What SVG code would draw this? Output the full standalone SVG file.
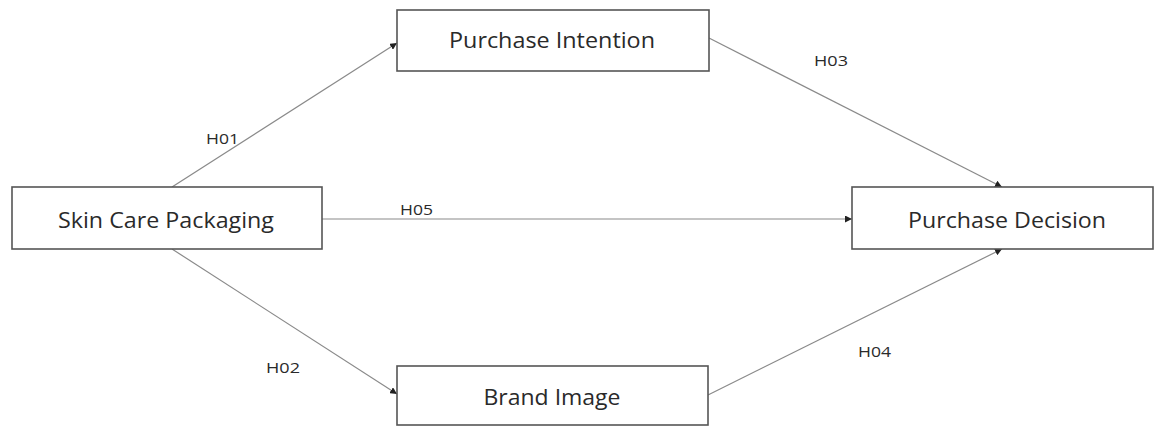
<svg xmlns="http://www.w3.org/2000/svg" width="1158" height="427" viewBox="0 0 1158 427">
<defs>
<style>
.box{fill:#fff;stroke:#555;stroke-width:1.6}
.node{font-family:"Open Sans","Noto Sans",sans-serif;font-size:21px;fill:#2a2a2a;text-anchor:middle}
.lbl{font-family:"Open Sans","Noto Sans",sans-serif;font-size:15px;fill:#2a2a2a}
.edge{stroke:#8a8a8a;stroke-width:1.2;fill:none;marker-end:url(#ah)}
</style>
<marker id="ah" viewBox="0 0 10 10" refX="10" refY="5" markerWidth="7" markerHeight="7" markerUnits="userSpaceOnUse" orient="auto">
<path d="M0,0 L10,5 L0,10 z" fill="#222"/>
</marker>
</defs>
<rect width="1158" height="427" fill="#fff"/>
<g id="connectors">
<line class="edge" x1="172" y1="187" x2="397" y2="43"/>
<line class="edge" x1="172" y1="249" x2="397" y2="394"/>
<line class="edge" x1="709" y1="38" x2="1002" y2="187"/>
<line class="edge" x1="708" y1="395" x2="1002" y2="249"/>
<line class="edge" x1="322" y1="219" x2="852" y2="219"/>
<text class="lbl" x="206" y="144" textLength="33" lengthAdjust="spacingAndGlyphs">H01</text>
<text class="lbl" x="400" y="215" textLength="33" lengthAdjust="spacingAndGlyphs">H05</text>
<text class="lbl" x="266" y="373" textLength="34" lengthAdjust="spacingAndGlyphs">H02</text>
<text class="lbl" x="814" y="66" textLength="34" lengthAdjust="spacingAndGlyphs">H03</text>
<text class="lbl" x="858" y="357" textLength="33" lengthAdjust="spacingAndGlyphs">H04</text>
</g>
<g id="purchase-intention">
<rect class="box" x="397" y="10" width="312" height="61"/>
<text class="node" x="552" y="48" textLength="206" lengthAdjust="spacingAndGlyphs">Purchase Intention</text>
</g>
<g id="skin-care-packaging">
<rect class="box" x="12" y="187" width="310" height="62"/>
<text class="node" x="166" y="228" textLength="216" lengthAdjust="spacingAndGlyphs">Skin Care Packaging</text>
</g>
<g id="purchase-decision">
<rect class="box" x="852" y="187" width="301" height="62"/>
<text class="node" x="1007" y="228" textLength="198" lengthAdjust="spacingAndGlyphs">Purchase Decision</text>
</g>
<g id="brand-image">
<rect class="box" x="397" y="366" width="311" height="59"/>
<text class="node" x="552" y="405" textLength="137" lengthAdjust="spacingAndGlyphs">Brand Image</text>
</g>
</svg>
